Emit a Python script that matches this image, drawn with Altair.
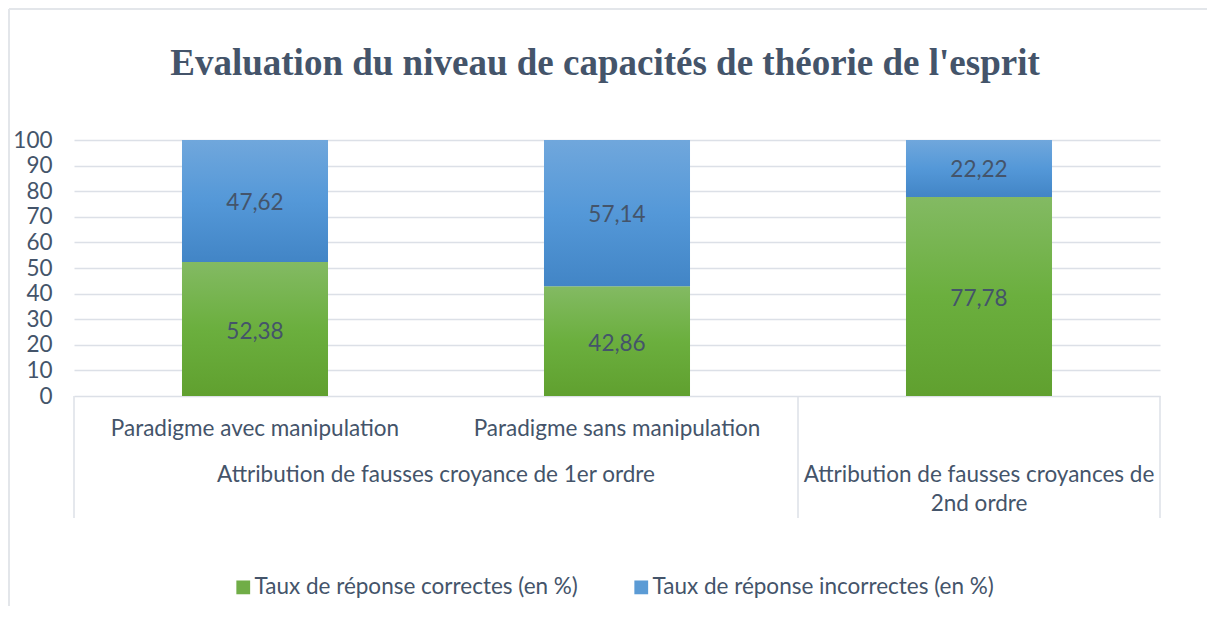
import altair as alt
import pandas as pd

# ---- data ----
categories = ["Paradigme avec manipulation", "Paradigme sans manipulation", ""]
correct = [52.38, 42.86, 77.78]
incorrect = [47.62, 57.14, 22.22]
group_labels = ["Attribution de fausses croyance de 1er ordre",
                "Attribution de fausses croyances de\n2nd ordre"]
group_start = [0, 2]
group_end = [2, 3]
series = ["Taux de réponse correctes (en %)", "Taux de réponse incorrectes (en %)"]
y_ticks = list(range(0, 101, 10))
title_text = ["Evaluation du niveau de capacités de théorie de l'esprit"]

TXT = "#44546A"
GRID = "#DCE0E7"
FONT = "Lato"
FS = 22.5

W, H = 1086, 256

bars_df = pd.DataFrame({"idx": list(range(len(categories))), "cat": categories,
                        "correct": correct, "incorrect": incorrect})
groups_df = pd.DataFrame({"label": group_labels, "start": group_start, "end": group_end})
bounds_df = pd.DataFrame({"b": sorted(set(group_start + group_end))})
legend_df = pd.DataFrame({"series": series})
title_df = pd.DataFrame({"t": title_text})

xs = alt.Scale(domain=[0, len(categories)], nice=False, zero=False)
ys = alt.Scale(domain=[0, 100], nice=False)

base = alt.Chart(bars_df).transform_calculate(
    xc="datum.idx + 0.5",
    x1="datum.idx + 0.5 - 0.2017",
    x2="datum.idx + 0.5 + 0.2017",
    lo="0",
    total="datum.correct + datum.incorrect",
    mid_c="datum.correct / 2",
    mid_i="datum.correct + datum.incorrect / 2",
    lab_c="replace(format(datum.correct, '.2f'), '.', ',')",
    lab_i="replace(format(datum.incorrect, '.2f'), '.', ',')",
)

green_grad = alt.Gradient(gradient="linear", x1=0, x2=0, y1=0, y2=1,
                          stops=[alt.GradientStop(color="#83BA63", offset=0),
                                 alt.GradientStop(color="#6BAF3E", offset=0.5),
                                 alt.GradientStop(color="#60A02F", offset=1)])
blue_grad = alt.Gradient(gradient="linear", x1=0, x2=0, y1=0, y2=1,
                         stops=[alt.GradientStop(color="#70A7DC", offset=0),
                                alt.GradientStop(color="#5498D8", offset=0.5),
                                alt.GradientStop(color="#4285C6", offset=1)])

y_axis = alt.Axis(values=y_ticks, grid=True, gridColor=GRID, gridWidth=1.5,
                  domain=False, ticks=False, labelPadding=22, labelFont=FONT,
                  labelFontSize=FS, labelColor=TXT, title=None,
                  labelOverlap=False, labelBound=False)

green = base.mark_bar(color=green_grad).encode(
    x=alt.X("x1:Q", scale=xs, axis=None), x2="x2:Q",
    y=alt.Y("correct:Q", scale=ys, axis=y_axis, stack=None, title=None), y2="lo:Q",
)
blue = base.mark_bar(color=blue_grad).encode(
    x=alt.X("x1:Q", scale=xs, axis=None), x2="x2:Q",
    y=alt.Y("correct:Q", scale=ys, axis=y_axis, stack=None, title=None), y2="total:Q",
)
lab_c = base.mark_text(font=FONT, fontSize=FS, color=TXT, baseline="middle", dy=3).encode(
    x=alt.X("xc:Q", scale=xs, axis=None),
    y=alt.Y("mid_c:Q", scale=ys, axis=y_axis, title=None), text="lab_c:N")
lab_i = base.mark_text(font=FONT, fontSize=FS, color=TXT, baseline="middle", dy=2).encode(
    x=alt.X("xc:Q", scale=xs, axis=None),
    y=alt.Y("mid_i:Q", scale=ys, axis=y_axis, title=None), text="lab_i:N")

sub_labels = base.mark_text(font=FONT, fontSize=FS, color=TXT, baseline="alphabetic").encode(
    x=alt.X("xc:Q", scale=xs, axis=None), y=alt.value(296), text="cat:N")

grp_labels = alt.Chart(groups_df).transform_calculate(
    gc="(datum.start + datum.end) / 2").mark_text(
    font=FONT, fontSize=FS, color=TXT, baseline="alphabetic",
    lineBreak="\n", lineHeight=29).encode(
    x=alt.X("gc:Q", scale=xs, axis=None), y=alt.value(342), text="label:N")

seps = alt.Chart(bounds_df).mark_rule(color=GRID, strokeWidth=1.5).encode(
    x=alt.X("b:Q", scale=xs, axis=None), y=alt.value(H), y2=alt.value(H + 122))

legend_layer = alt.Chart(legend_df).mark_square(size=0, opacity=0).encode(
    color=alt.Color("series:N",
                    scale=alt.Scale(domain=series, range=["#70AD47", "#5B9BD5"]),
                    legend=alt.Legend(orient="none", legendX=158, legendY=436,
                                      direction="horizontal", title=None,
                                      symbolType="square", symbolSize=190,
                                      symbolOpacity=1, symbolStrokeWidth=0,
                                      labelFont=FONT, labelFontSize=FS,
                                      labelColor=TXT, columnPadding=52,
                                      labelOffset=0, labelLimit=500)))

title_layer = alt.Chart(title_df).mark_text(
    font="Liberation Serif", fontSize=37, fontWeight="bold", color=TXT,
    baseline="alphabetic", align="center").encode(
    x=alt.value(W / 2 - 12), y=alt.value(-65), text="t:N")

border_top = alt.Chart(legend_df).mark_rule(color="#E3E6EA", strokeWidth=2).encode(
    x=alt.value(-65), x2=alt.value(W + 60), y=alt.value(-131))
border_left = alt.Chart(legend_df).mark_rule(color="#E3E6EA", strokeWidth=2).encode(
    x=alt.value(-65), y=alt.value(-131), y2=alt.value(H + 240))

chart = alt.layer(border_top, border_left, green, blue, lab_c, lab_i, sub_labels,
                  grp_labels, seps, legend_layer, title_layer).properties(
    width=W, height=H,
    autosize=alt.AutoSizeParams(type="none"),
    padding={"left": 66, "top": 132, "right": 47, "bottom": 210},
).configure_view(stroke=None)

chart.save("out.html", embed_options={"renderer": "svg", "actions": False})
